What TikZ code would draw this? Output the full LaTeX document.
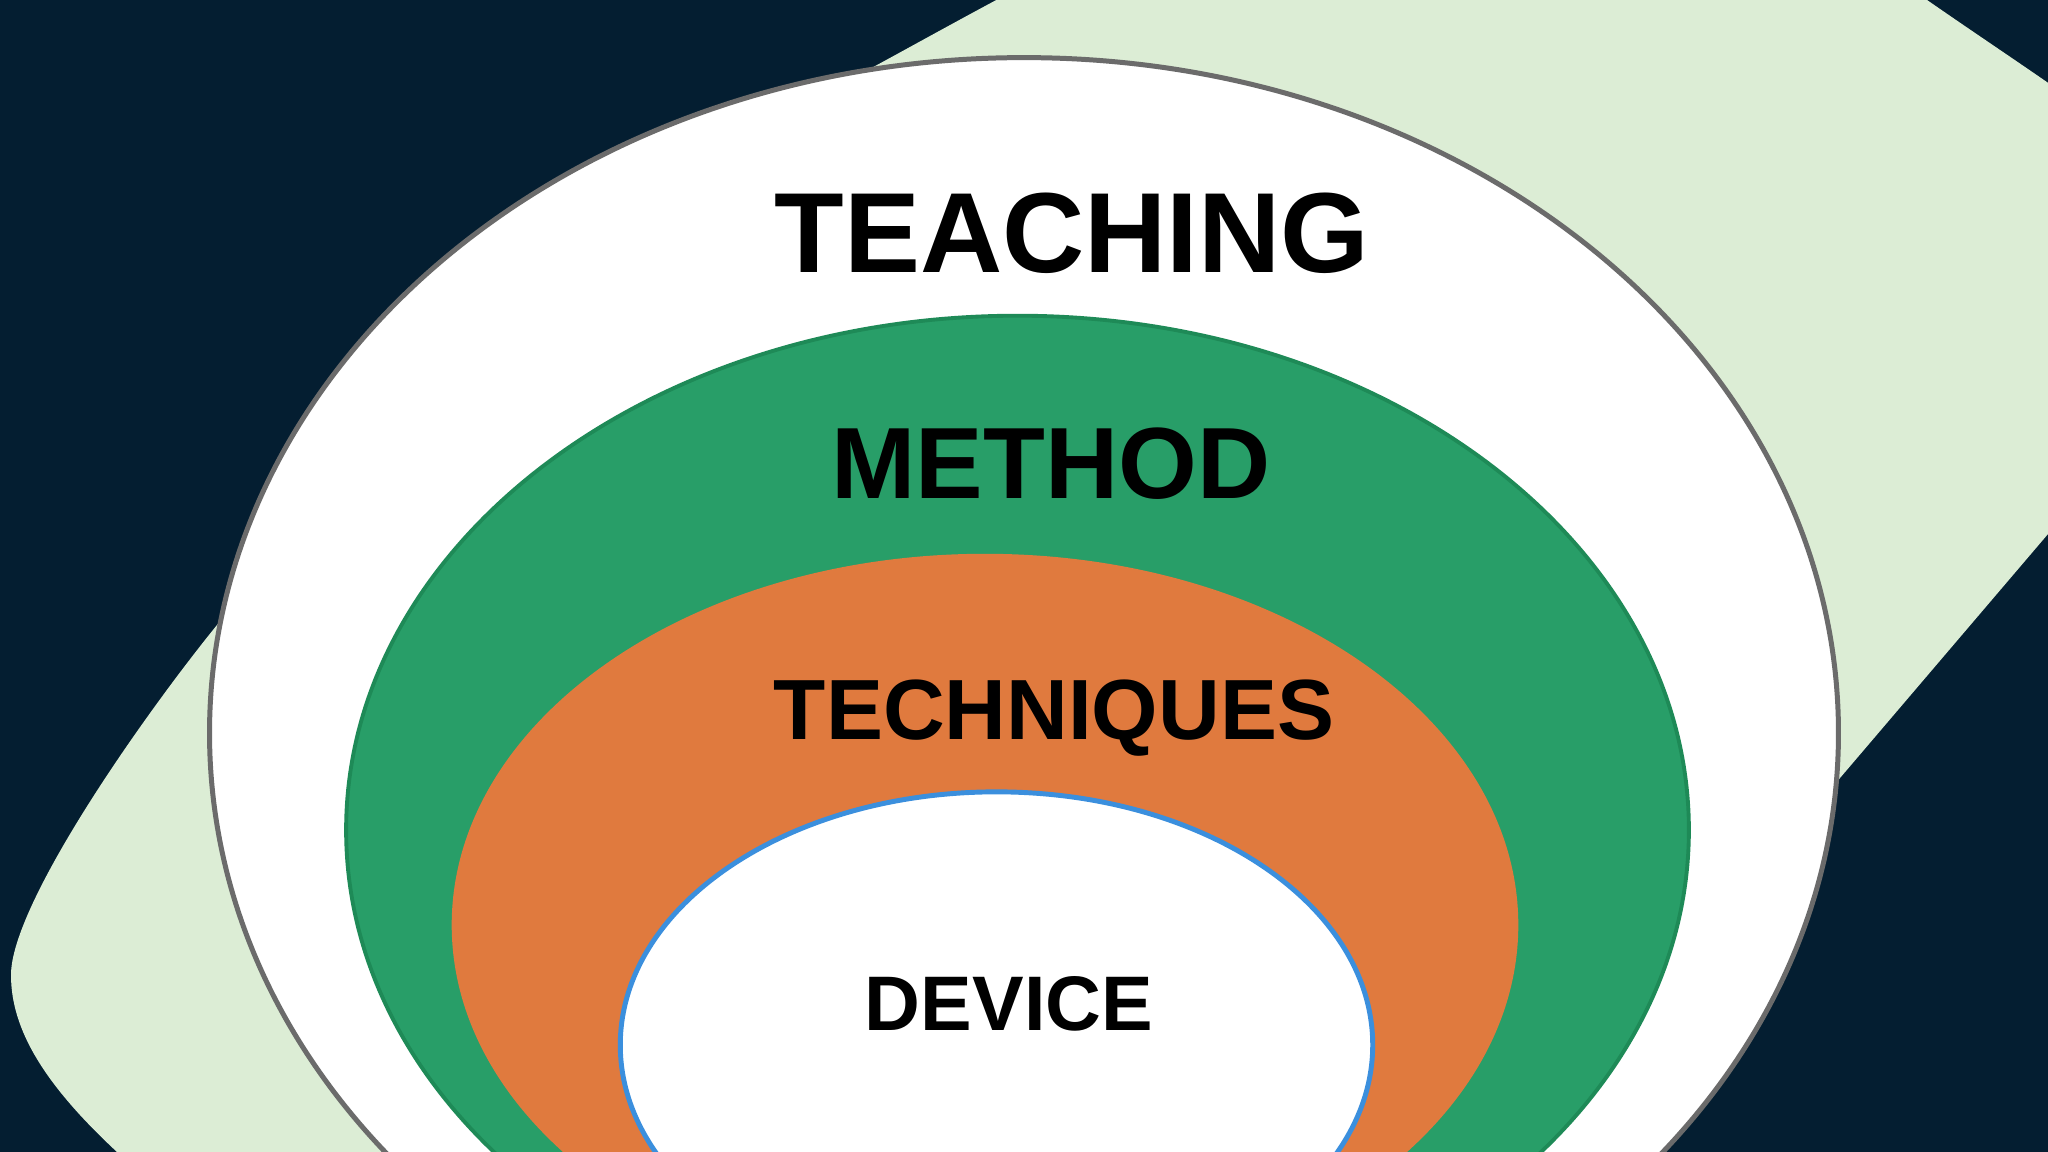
\documentclass[tikz,border=0pt]{standalone}
\usepackage{fontspec}
\setmainfont{Liberation Sans}
\definecolor{navy}{HTML}{041E31}
\definecolor{palegreen}{HTML}{DCEDD5}
\definecolor{ringgray}{HTML}{6B6B6B}
\definecolor{methodgreen}{HTML}{289E68}
\definecolor{methodedge}{HTML}{1E8A57}
\definecolor{techorange}{HTML}{E07A3E}
\definecolor{deviceblue}{HTML}{3B8FDD}
\tikzset{
  lbl/.style={anchor=base, inner sep=0pt, text=black},
}
\begin{document}
\begin{tikzpicture}[x=0.01cm,y=-0.01cm]
\useasboundingbox (0,0) rectangle (2048,1152);
\clip (0,0) rectangle (2048,1152);
\fill[navy] (0,0) rectangle (2048,1152);
% background blob
\fill[palegreen] (117,1152) .. controls (45,1085) and (11,1030) .. (11,975)
 .. controls (11,905) and (140,720) .. (217,625)
 .. controls (330,485) and (700,160) .. (877,65)
 .. controls (960,20) and (1100,-60) .. (1300,-150)
 .. controls (1550,-200) and (1820,-74) .. (1927,0)
 .. controls (2100,120) and (2240,200) .. (2240,300)
 .. controls (2240,380) and (2150,415) .. (2048,534)
 -- (1840,778) -- (1400,1300) -- (300,1350) -- (160,1205) -- cycle;
% nested ellipses
\filldraw[fill=white, draw=ringgray, line width=1.42pt] (1024,733) ellipse [x radius=8.14cm, y radius=6.75cm];
\filldraw[fill=methodgreen, draw=methodedge, line width=1.1pt] (1017.5,830) ellipse [x radius=6.71cm, y radius=5.14cm];
\fill[techorange] (985,925) ellipse [x radius=5.33cm, y radius=3.71cm];
\filldraw[fill=white, draw=deviceblue, line width=1.4pt] (996.5,1045) ellipse [x radius=3.76cm, y radius=2.53cm];
% labels
\node[lbl, font=\fontsize{32.4pt}{36pt}\selectfont\bfseries] (teaching) at (1072,273) {TEACHING};
\node[lbl, font=\fontsize{28.8pt}{32pt}\selectfont\bfseries] (method) at (1051,499) {METHOD};
\node[lbl, font=\fontsize{24.3pt}{28pt}\selectfont\bfseries] (techniques) at (1054,739) {TECHNIQUES};
\node[lbl, font=\fontsize{22pt}{26pt}\selectfont\bfseries] (device) at (1009,1030) {DEVICE};
\end{tikzpicture}
\end{document}
